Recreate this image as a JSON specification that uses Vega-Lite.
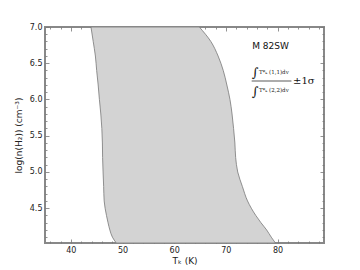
{
  "$schema": "https://vega.github.io/schema/vega-lite/v6.json",
  "width": 279,
  "height": 216,
  "autosize": "none",
  "padding": {"left": 45, "top": 27, "right": 36, "bottom": 27},
  "background": "white",
  "config": {
    "view": {"stroke": "#888888", "strokeWidth": 2},
    "font": "DejaVu Sans",
    "axis": {
      "domain": false,
      "grid": false,
      "tickColor": "#777777",
      "tickWidth": 0.8,
      "labelFont": "DejaVu Sans",
      "labelFontSize": 8,
      "labelColor": "#222222",
      "titleFont": "DejaVu Sans",
      "titleFontSize": 9,
      "titleFontWeight": "normal",
      "titleColor": "#222222"
    }
  },
  "datasets": {
    "band": [
      {"n": 7.0, "tl": 43.9, "tr": 64.87},
      {"n": 6.8, "tl": 44.33, "tr": 67.1},
      {"n": 6.6, "tl": 44.75, "tr": 68.5},
      {"n": 6.4, "tl": 45.0, "tr": 69.5},
      {"n": 6.2, "tl": 45.29, "tr": 70.2},
      {"n": 6.0, "tl": 45.53, "tr": 70.8},
      {"n": 5.8, "tl": 45.8, "tr": 71.2},
      {"n": 5.6, "tl": 46.0, "tr": 71.5},
      {"n": 5.4, "tl": 46.11, "tr": 71.75},
      {"n": 5.2, "tl": 46.15, "tr": 71.9},
      {"n": 5.0, "tl": 46.24, "tr": 72.3},
      {"n": 4.8, "tl": 46.35, "tr": 73.2},
      {"n": 4.6, "tl": 46.45, "tr": 74.2},
      {"n": 4.4, "tl": 46.9, "tr": 75.8},
      {"n": 4.3, "tl": 47.2, "tr": 76.8},
      {"n": 4.2, "tl": 47.55, "tr": 77.9},
      {"n": 4.1, "tl": 48.05, "tr": 78.8},
      {"n": 4.02, "tl": 48.8, "tr": 79.6}
    ],
    "title": [{"x": 75.1, "y": 6.74, "text": "M 82SW"}],
    "integrals": [
      {"x": 75.0, "y": 6.36, "text": "∫"},
      {"x": 75.0, "y": 6.11, "text": "∫"}
    ],
    "terms": [
      {"x": 76.4, "y": 6.38, "text": "T*ₖ (1,1)dv"},
      {"x": 76.4, "y": 6.13, "text": "T*ₖ (2,2)dv"}
    ],
    "bar": [{"x": 75.0, "x2": 82.7, "y": 6.255}],
    "sigma": [{"x": 83.0, "y": 6.255, "text": "±1σ"}]
  },
  "resolve": {"axis": {"x": "independent", "y": "independent"}},
  "layer": [
    {
      "data": {"name": "band"},
      "mark": {"type": "area", "orient": "horizontal", "interpolate": "monotone", "fill": "#d3d3d3", "stroke": "#777777", "strokeWidth": 0.8, "clip": true},
      "encoding": {
        "y": {
          "field": "n", "type": "quantitative",
          "scale": {"domain": [4.02, 7.0], "nice": false, "zero": false},
          "axis": {
            "orient": "left",
            "title": "log(n(H₂)) (cm⁻³)",
            "titlePadding": 6,
            "values": [4.1, 4.2, 4.3, 4.4, 4.5, 4.6, 4.7, 4.8, 4.9, 5.0, 5.1, 5.2, 5.3, 5.4, 5.5, 5.6, 5.7, 5.8, 5.9, 6.0, 6.1, 6.2, 6.3, 6.4, 6.5, 6.6, 6.7, 6.8, 6.9, 7.0],
            "labelExpr": "round(datum.value*10) % 5 === 0 ? format(datum.value, '.1f') : ''",
            "tickSize": {"condition": {"test": "round(datum.value*10) % 5 === 0", "value": -4}, "value": -2},
            "labelPadding": 7
          }
        },
        "x": {
          "field": "tl", "type": "quantitative",
          "scale": {"domain": [35, 89], "nice": false, "zero": false},
          "axis": {
            "orient": "bottom",
            "title": "Tₖ  (K)",
            "titlePadding": 2,
            "values": [36, 38, 40, 42, 44, 46, 48, 50, 52, 54, 56, 58, 60, 62, 64, 66, 68, 70, 72, 74, 76, 78, 80, 82, 84, 86, 88],
            "labelExpr": "datum.value % 10 === 0 ? datum.label : ''",
            "tickSize": {"condition": {"test": "datum.value % 10 === 0", "value": -4}, "value": -2},
            "labelPadding": 7
          }
        },
        "x2": {"field": "tr"}
      }
    },
    {
      "data": {"name": "band"},
      "mark": {"type": "point", "opacity": 0},
      "encoding": {
        "y": {
          "field": "n", "type": "quantitative",
          "axis": {
            "orient": "right", "title": null, "labels": false,
            "values": [4.1, 4.2, 4.3, 4.4, 4.5, 4.6, 4.7, 4.8, 4.9, 5.0, 5.1, 5.2, 5.3, 5.4, 5.5, 5.6, 5.7, 5.8, 5.9, 6.0, 6.1, 6.2, 6.3, 6.4, 6.5, 6.6, 6.7, 6.8, 6.9, 7.0],
            "tickSize": {"condition": {"test": "round(datum.value*10) % 5 === 0", "value": -4}, "value": -2}
          }
        },
        "x": {
          "field": "tl", "type": "quantitative",
          "axis": {
            "orient": "top", "title": null, "labels": false,
            "values": [36, 38, 40, 42, 44, 46, 48, 50, 52, 54, 56, 58, 60, 62, 64, 66, 68, 70, 72, 74, 76, 78, 80, 82, 84, 86, 88],
            "tickSize": {"condition": {"test": "datum.value % 10 === 0", "value": -4}, "value": -2}
          }
        }
      }
    },
    {
      "data": {"name": "title"},
      "mark": {"type": "text", "align": "left", "baseline": "middle", "fontSize": 9, "font": "DejaVu Sans", "color": "#111111"},
      "encoding": {
        "x": {"field": "x", "type": "quantitative", "axis": null},
        "y": {"field": "y", "type": "quantitative", "axis": null},
        "text": {"field": "text"}
      }
    },
    {
      "data": {"name": "integrals"},
      "mark": {"type": "text", "align": "left", "baseline": "middle", "fontSize": 13, "font": "DejaVu Serif", "color": "#111111"},
      "encoding": {
        "x": {"field": "x", "type": "quantitative", "axis": null},
        "y": {"field": "y", "type": "quantitative", "axis": null},
        "text": {"field": "text"}
      }
    },
    {
      "data": {"name": "terms"},
      "mark": {"type": "text", "align": "left", "baseline": "middle", "fontSize": 5.5, "font": "DejaVu Serif", "color": "#111111"},
      "encoding": {
        "x": {"field": "x", "type": "quantitative", "axis": null},
        "y": {"field": "y", "type": "quantitative", "axis": null},
        "text": {"field": "text"}
      }
    },
    {
      "data": {"name": "bar"},
      "mark": {"type": "rule", "color": "#111111", "strokeWidth": 0.7},
      "encoding": {
        "x": {"field": "x", "type": "quantitative", "axis": null},
        "x2": {"field": "x2"},
        "y": {"field": "y", "type": "quantitative", "axis": null}
      }
    },
    {
      "data": {"name": "sigma"},
      "mark": {"type": "text", "align": "left", "baseline": "middle", "fontSize": 10, "font": "DejaVu Serif", "fontStyle": "normal", "color": "#111111"},
      "encoding": {
        "x": {"field": "x", "type": "quantitative", "axis": null},
        "y": {"field": "y", "type": "quantitative", "axis": null},
        "text": {"field": "text"}
      }
    }
  ]
}
